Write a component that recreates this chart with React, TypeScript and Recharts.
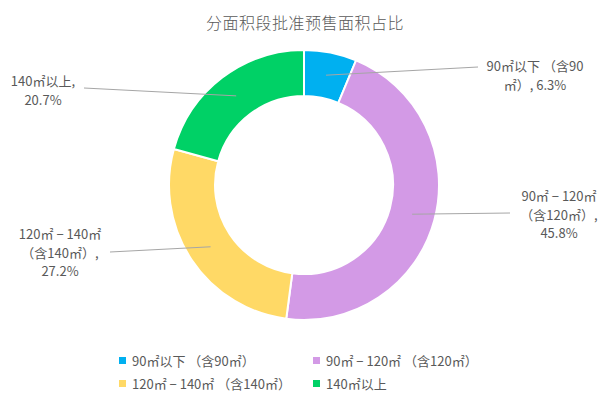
import { PieChart, Pie, Cell, Legend } from "recharts";

document.body.style.margin = "0";

const categories = [
  "90㎡以下 （含90㎡）",
  "90㎡ − 120㎡ （含120㎡）",
  "120㎡ − 140㎡ （含140㎡）",
  "140㎡以上",
];
const shares = [6.3, 45.8, 27.2, 20.7];
const labelLines = [
  ["90㎡以下 （含90", "㎡）, 6.3%"],
  ["90㎡ − 120㎡", "（含120㎡）,", "45.8%"],
  ["120㎡ − 140㎡", "（含140㎡）,", "27.2%"],
  ["140㎡以上,", "20.7%"],
];
const colors = ["#00B0F0", "#D39AE6", "#FFD966", "#00D166"];

// where each label's text block sits, and where its leader line ends
const labelLayout = [
  { x: 535, y: 65, endX: 478, endY: 67 },
  { x: 559, y: 195, endX: 510, endY: 213 },
  { x: 60, y: 233, endX: 110, endY: 252 },
  { x: 43, y: 80, endX: 84, endY: 88 },
];

const data = categories.map((name, i) => ({ name, value: shares[i] }));

const FONT = '"Microsoft YaHei", "Noto Sans CJK SC", sans-serif';
const TEXT = "#595959";
const RAD = Math.PI / 180;

function SliceLabel(props: any) {
  const { cx, cy, midAngle, innerRadius, outerRadius, index } = props;
  const r = (innerRadius + outerRadius) / 2;
  const sx = cx + r * Math.cos(-midAngle * RAD);
  const sy = cy + r * Math.sin(-midAngle * RAD);
  const lay = labelLayout[index];
  return (
    <g>
      <line x1={sx} y1={sy} x2={lay.endX} y2={lay.endY} stroke="#A6A6A6" strokeWidth={1} />
      <text
        x={lay.x}
        y={lay.y}
        textAnchor="middle"
        dominantBaseline="central"
        fontSize={13}
        fontFamily={FONT}
        fill={TEXT}
      >
        {labelLines[index].map((line, k) => (
          <tspan key={k} x={lay.x} dy={k === 0 ? 0 : 18.5}>
            {line}
          </tspan>
        ))}
      </text>
    </g>
  );
}

function ChartLegend() {
  return (
    <div
      style={{
        display: "grid",
        gridTemplateColumns: "194px 194px",
        rowGap: 5,
        paddingLeft: 119,
        fontFamily: FONT,
        fontSize: 13,
        color: TEXT,
      }}
    >
      {categories.map((c, i) => (
        <div key={c} style={{ display: "flex", alignItems: "center", height: 18, whiteSpace: "nowrap" }}>
          <span
            style={{
              width: 7,
              height: 7,
              background: colors[i],
              marginRight: 6,
              display: "inline-block",
            }}
          />
          {c}
        </div>
      ))}
    </div>
  );
}

export default function App() {
  return (
    <div style={{ width: 610, height: 407, position: "relative", background: "#fff" }}>
      <div
        style={{
          position: "absolute",
          top: 10,
          left: 0,
          width: 610,
          textAlign: "center",
          fontFamily: FONT,
          fontSize: 16,
          fontWeight: 300,
          letterSpacing: 0.5,
          color: TEXT,
          zIndex: 1,
        }}
      >
        分面积段批准预售面积占比
      </div>
      <PieChart width={610} height={407} margin={{ top: 0, right: 0, bottom: 0, left: 0 }}>
        <Pie
          data={data}
          dataKey="value"
          nameKey="name"
          cx={304}
          cy={185}
          innerRadius={89}
          outerRadius={135}
          startAngle={90}
          endAngle={-270}
          stroke="#fff"
          strokeWidth={2}
          labelLine={false}
          label={SliceLabel}
          isAnimationActive={false}
        >
          {data.map((d, i) => (
            <Cell key={d.name} fill={colors[i]} />
          ))}
        </Pie>
        <Legend
          content={<ChartLegend />}
          wrapperStyle={{ position: "absolute", left: 0, top: 351, width: 610 }}
        />
      </PieChart>
    </div>
  );
}
